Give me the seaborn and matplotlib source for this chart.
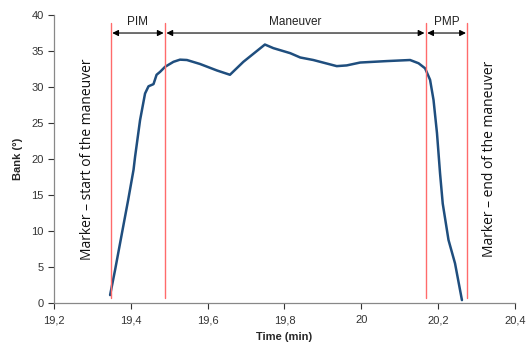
import matplotlib
matplotlib.use("Agg")
import matplotlib.pyplot as plt
import seaborn as sns
import pandas as pd

time_min = [19.346, 19.359, 19.380, 19.393, 19.407, 19.411, 19.424, 19.437, 19.446, 19.459,
            19.467, 19.476, 19.489, 19.511, 19.528, 19.546, 19.580, 19.624, 19.658, 19.693,
            19.749, 19.771, 19.815, 19.841, 19.875, 19.936, 19.962, 19.997, 20.066, 20.127,
            20.149, 20.166, 20.179, 20.188, 20.197, 20.205, 20.212, 20.227, 20.244, 20.262]
bank_deg = [1.1, 4.6, 10.6, 14.3, 18.5, 20.3, 25.4, 29.1, 30.1, 30.4,
            31.7, 32.1, 32.8, 33.5, 33.8, 33.75, 33.2, 32.3, 31.7, 33.5,
            35.9, 35.4, 34.7, 34.1, 33.75, 32.9, 33.0, 33.4, 33.6, 33.75,
            33.3, 32.6, 31.0, 28.2, 23.6, 18.0, 13.8, 8.75, 5.5, 0.4]

marker_times = [19.348, 19.489, 20.168, 20.276]
phase_labels = ["PIM", "Maneuver", "PMP"]
x_ticks = [19.2, 19.4, 19.6, 19.8, 20.0, 20.2, 20.4]
x_tick_labels = ["19,2", "19,4", "19,6", "19,8", "20", "20,2", "20,4"]
y_ticks = [0, 5, 10, 15, 20, 25, 30, 35, 40]

sns.set_style("white")
plt.rcParams['font.family'] = ['Liberation Sans', 'DejaVu Sans']

fig = plt.figure(figsize=(5.26, 3.46), dpi=100)
ax = fig.add_axes([0.1027, 0.1243, 0.979 - 0.1027, 0.9566 - 0.1243])

df = pd.DataFrame({"Time (min)": time_min, "Bank (°)": bank_deg})
sns.lineplot(data=df, x="Time (min)", y="Bank (°)", ax=ax, color="#1f4e7e", linewidth=1.8)

for t in marker_times:
    ax.plot([t, t], [0.7, 38.9], color="#ff6b6b", linewidth=1.0)

for i, lab in enumerate(phase_labels):
    a, b = marker_times[i], marker_times[i + 1]
    ax.annotate("", xy=(a, 37.5), xytext=(b, 37.5),
                arrowprops=dict(arrowstyle="<|-|>", color="black", lw=0.8,
                                mutation_scale=9, shrinkA=1, shrinkB=1))
    ax.text((a + b) / 2, 39.0, lab, ha="center", va="center", fontsize=8.5, color="#222222")

ax.text(19.286, 20.0, "Marker – start of the maneuver", rotation=90, ha="center", va="center",
        fontsize=10, family=["Open Sans", "DejaVu Sans"], color="#111111")
ax.text(20.335, 20.0, "Marker – end of the maneuver", rotation=90, ha="center", va="center",
        fontsize=10, family=["Open Sans", "DejaVu Sans"], color="#111111")

ax.set_xlim(19.2, 20.4)
ax.set_ylim(0, 40)
ax.set_xticks(x_ticks)
ax.set_xticklabels(x_tick_labels)
ax.set_yticks(y_ticks)
ax.tick_params(axis="both", labelsize=8, colors="#333333", length=4, width=0.8, direction="out",
               bottom=True, left=True)
ax.tick_params(axis="x", pad=5)
for s in ["top", "right"]:
    ax.spines[s].set_visible(False)
for s in ["left", "bottom"]:
    ax.spines[s].set_color("#888888")
    ax.spines[s].set_linewidth(0.9)

ax.set_xlabel("Time (min)", fontsize=8, fontweight="bold", labelpad=5)
ax.set_ylabel("Bank (°)", fontsize=8, fontweight="bold", labelpad=6)

fig.savefig("out.png", dpi=100)
